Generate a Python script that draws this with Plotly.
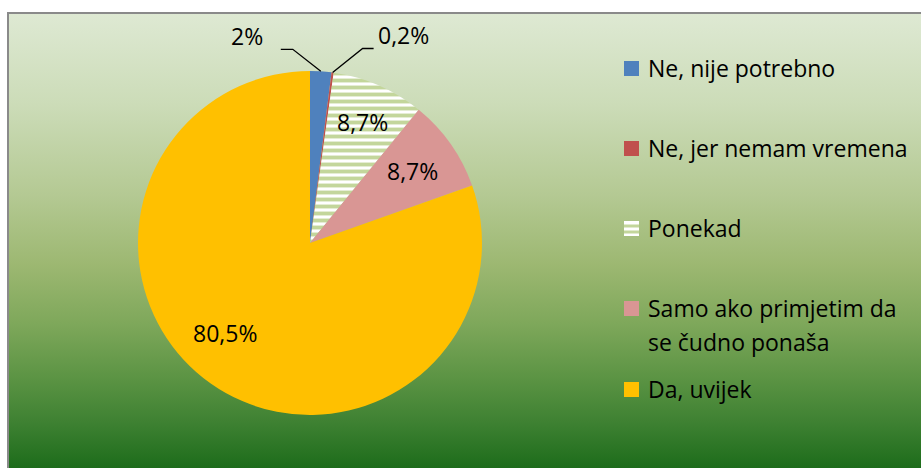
import base64, math, textwrap
import plotly.graph_objects as go

# ---- data ----
labels = ["Ne, nije potrebno", "Ne, jer nemam vremena", "Ponekad",
          "Samo ako primjetim da se čudno ponaša", "Da, uvijek"]
values = [2.0, 0.2, 8.7, 8.7, 80.5]
value_text = ["2%", "0,2%", "8,7%", "8,7%", "80,5%"]
colors = ["#4f81bd", "#c0504d", "#ffffff", "#d99694", "#ffc000"]
stripe_color = "#c3d69b"

# ---- layout constants (pixels) ----
W, H = 921, 468
CX, CY, R = 310, 243, 172
FONT = "Open Sans"
FS = 23

def px(x):
    return x / W

def py(y):
    return 1 - y / H

fig = go.Figure()

fig.add_trace(go.Pie(
    labels=labels, values=values, sort=False, direction="clockwise", rotation=0,
    marker=dict(colors=colors, line=dict(width=0),
                pattern=dict(shape=["", "", "-", "", ""],
                             fgcolor=[stripe_color] * 5, bgcolor=colors,
                             size=7, solidity=0.55, fillmode="replace")),
    textinfo="none", hoverinfo="label+percent", showlegend=False,
    domain=dict(x=[px(CX - R), px(CX + R)], y=[py(CY + R), py(CY - R)]),
))

# gradient background
stops = [(0.00, "#dee9d3"), (0.20, "#ccdcb8"), (0.40, "#b4c993"), (0.55, "#9db872"),
         (0.68, "#7fa85b"), (0.80, "#5c9444"), (0.90, "#3e8132"), (1.00, "#1d6c1b")]
stop_xml = "".join(f'<stop offset="{o}" stop-color="{c}"/>' for o, c in stops)
svg = ('<svg xmlns="http://www.w3.org/2000/svg" width="100" height="100" '
       'viewBox="0 0 100 100" preserveAspectRatio="none"><defs>'
       '<linearGradient id="g" x1="0" y1="0" x2="0" y2="1">' + stop_xml +
       '</linearGradient></defs><rect width="100" height="100" fill="url(#g)"/></svg>')
src = "data:image/svg+xml;base64," + base64.b64encode(svg.encode()).decode()
FX, FY = 8, 13
images = [dict(source=src, xref="paper", yref="paper", x=px(FX), y=py(FY),
               sizex=1 - px(FX), sizey=py(FY), sizing="stretch",
               xanchor="left", yanchor="top", layer="below")]

shapes = [dict(type="path", xref="paper", yref="paper",
               path=f"M {px(FX)},0 L {px(FX)},{py(FY)} L 1,{py(FY)}",
               line=dict(color="#8a8a8a", width=2), layer="above")]
annotations = []

# slice angles
total = sum(values)
cum = 0
mids = []
for v in values:
    mids.append((cum + v / 2) / total * 360)
    cum += v

def edge(angle_deg, frac):
    a = math.radians(angle_deg)
    return CX + frac * R * math.sin(a), CY - frac * R * math.cos(a)

# inside labels (radius fraction, angle nudge)
inside = {2: (0.77, 0), 3: (0.73, 0), 4: (0.72, 8)}
for i, (rf, nudge) in inside.items():
    x, y = edge(mids[i] + nudge, rf)
    annotations.append(dict(x=px(x), y=py(y), xref="paper", yref="paper",
                            text=value_text[i], showarrow=False,
                            font=dict(family=FONT, size=FS, color="black"),
                            xanchor="center", yanchor="middle"))

# outside labels with leader lines (elbow offset, horizontal run, text offset)
outside = {0: (-28, -22, -12, -34), 1: (30, -24, 11, 30)}
for i, (ex, ey, hx, tx) in outside.items():
    x0, y0 = edge(mids[i], 1.0)
    x1, y1 = x0 + ex, y0 + ey
    x2 = x1 + hx
    shapes.append(dict(type="path", xref="paper", yref="paper",
                       path=f"M {px(x0)},{py(y0)} L {px(x1)},{py(y1)} L {px(x2)},{py(y1)}",
                       line=dict(color="black", width=1.3), layer="above"))
    annotations.append(dict(x=px(x2 + tx), y=py(y1 - 13), xref="paper", yref="paper",
                            text=value_text[i], showarrow=False,
                            font=dict(family=FONT, size=FS, color="black"),
                            xanchor="center", yanchor="middle"))

# legend (manual)
leg_y = [68, 148, 228, 308, 389]
LX, SQ, TX, LINE = 624, 15, 646, 34
for i, lab in enumerate(labels):
    yc = leg_y[i]
    shapes.append(dict(type="rect", xref="paper", yref="paper",
                       x0=px(LX), x1=px(LX + SQ), y0=py(yc - SQ / 2 + 0.5), y1=py(yc + SQ / 2 + 0.5),
                       fillcolor=colors[i], line=dict(width=0), layer="above"))
    if i == 2:
        for k in range(2):
            s = yc - SQ / 2 + 0.5 + 3.5 + k * 6
            shapes.append(dict(type="rect", xref="paper", yref="paper",
                               x0=px(LX), x1=px(LX + SQ), y0=py(s), y1=py(s + 3),
                               fillcolor=stripe_color, line=dict(width=0), layer="above"))
    for j, line in enumerate(textwrap.wrap(lab, 21)):
        annotations.append(dict(x=px(TX), y=py(yc + j * LINE), xref="paper", yref="paper",
                                text=line, showarrow=False,
                                font=dict(family=FONT, size=FS, color="black"),
                                xanchor="left", yanchor="middle"))

fig.update_layout(width=W, height=H, margin=dict(l=0, r=0, t=0, b=0),
                  paper_bgcolor="white", plot_bgcolor="white",
                  images=images, shapes=shapes, annotations=annotations)

fig.write_html("out.html")
